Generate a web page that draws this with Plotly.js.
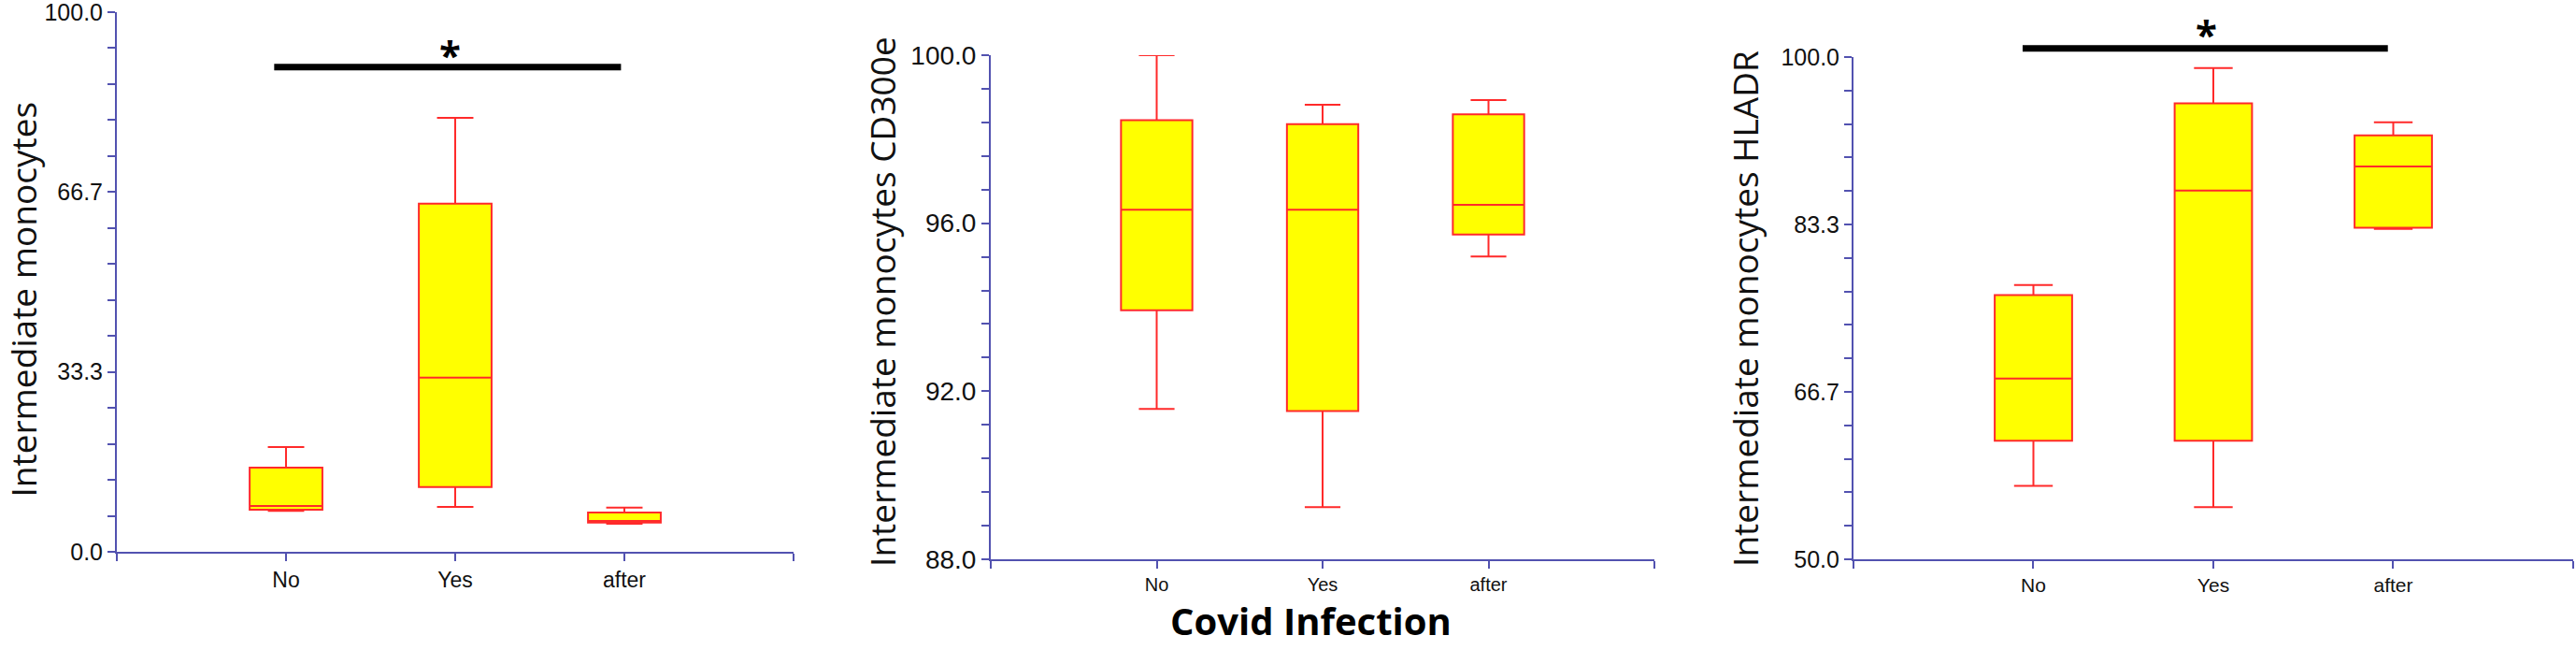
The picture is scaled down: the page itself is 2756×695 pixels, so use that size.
<!DOCTYPE html>
<html>
<head>
<meta charset="utf-8">
<script src="https://cdn.plot.ly/plotly-3.0.1.min.js"></script>
<style>
  html, body { margin: 0; padding: 0; background: #fff; }
  #chart { width: 2756px; height: 695px; }
</style>
</head>
<body>
<div id="chart"></div>
<script>
// groups on every x axis
const groups = ['No', 'Yes', 'after'];

// panel 1: Intermediate monocytes
const p1Lower = [7.6, 8.3, 5.2];
const p1Q1 = [7.8, 12.0, 5.4];
const p1Median = [8.5, 32.3, 5.7];
const p1Q3 = [15.6, 64.5, 7.3];
const p1Upper = [19.4, 80.4, 8.2];
const p1TickText = ['0.0', '33.3', '66.7', '100.0'];

// panel 2: Intermediate monocytes CD300e
const p2Lower = [91.58, 89.24, 95.21];
const p2Q1 = [93.93, 91.53, 95.73];
const p2Median = [96.32, 96.32, 96.44];
const p2Q3 = [98.45, 98.36, 98.59];
const p2Upper = [100.0, 98.82, 98.93];
const p2TickText = ['88.0', '92.0', '96.0', '100.0'];

// panel 3: Intermediate monocytes HLADR
const p3Lower = [57.3, 55.2, 82.9];
const p3Q1 = [61.8, 61.8, 83.0];
const p3Median = [68.0, 86.7, 89.1];
const p3Q3 = [76.3, 95.4, 92.2];
const p3Upper = [77.3, 98.9, 93.5];
const p3TickText = ['50.0', '66.7', '83.3', '100.0'];

// significance bars: [from group, to group, level], star: [group, level]
const sig1 = [-0.07, 1.98, 89.8];
const star1 = [0.97, 93.2];
const sig3 = [-0.06, 1.97, 100.85];
const star3 = [0.96, 102.8];

const axisColor = '#5252b0';
const regular = '"Liberation Sans", Arial, sans-serif';
const narrow = '"Liberation Sans Narrow", "Arial Narrow", "Liberation Sans", sans-serif';
const titleFont = { family: '"Open Sans", sans-serif', size: 37, color: '#111' };
const starFont = { family: '"Open Sans", sans-serif', size: 42, color: '#000', weight: 700 };

function boxTrace(lower, q1, med, q3, upper, xa, ya) {
  return {
    type: 'box',
    x: groups,
    lowerfence: lower,
    q1: q1,
    median: med,
    q3: q3,
    upperfence: upper,
    boxpoints: false,
    width: 0.43,
    whiskerwidth: 0.5,
    fillcolor: '#ffff00',
    line: { color: '#ff2a2a', width: 2 },
    xaxis: xa,
    yaxis: ya,
    hoverinfo: 'skip',
    showlegend: false
  };
}

// 15 tick steps on every y axis, label on each 5th
function yTicks(lo, hi, labels) {
  const vals = [], text = [];
  for (let i = 0; i <= 15; i++) {
    vals.push(lo + (hi - lo) * i / 15);
    text.push(i % 5 === 0 ? labels[i / 5] : '');
  }
  return { tickvals: vals, ticktext: text };
}

function xAxis(domain, anchor, font, size) {
  return {
    domain: domain,
    anchor: anchor,
    type: 'category',
    range: [-1, 3],
    showline: true, linecolor: axisColor, linewidth: 2,
    ticks: 'outside', ticklen: 8, tickwidth: 2, tickcolor: axisColor,
    tickmode: 'array',
    tickvals: [-1, 0, 1, 2, 3],
    ticktext: ['', groups[0], groups[1], groups[2], ''],
    tickfont: { family: font, size: size, color: '#111' },
    ticklabeloverflow: 'allow',
    showgrid: false, zeroline: false, fixedrange: true
  };
}

function yAxis(domain, anchor, lo, hi, labels, font, size) {
  const t = yTicks(lo, hi, labels);
  return {
    domain: domain,
    anchor: anchor,
    range: [lo, hi],
    showline: true, linecolor: axisColor, linewidth: 2,
    ticks: 'outside', ticklen: 8, tickwidth: 2, tickcolor: axisColor,
    tickmode: 'array', tickvals: t.tickvals, ticktext: t.ticktext,
    tickfont: { family: font, size: size, color: '#111' },
    ticklabeloverflow: 'allow',
    showgrid: false, zeroline: false, fixedrange: true
  };
}

const data = [
  boxTrace(p1Lower, p1Q1, p1Median, p1Q3, p1Upper, 'x', 'y'),
  boxTrace(p2Lower, p2Q1, p2Median, p2Q3, p2Upper, 'x2', 'y2'),
  boxTrace(p3Lower, p3Q1, p3Median, p3Q3, p3Upper, 'x3', 'y3')
];

// panel 3 marks sit above the axis top, so place them in domain units (no clipping)
const dx = v => (v + 1) / 4;
const dy3 = v => (v - 50) / 50;

const layout = {
  width: 2756,
  height: 695,
  margin: { l: 0, r: 0, t: 0, b: 0 },
  paper_bgcolor: '#fff',
  plot_bgcolor: '#fff',
  xaxis: xAxis([0.04536, 0.30806], 'y', regular, 23),
  yaxis: yAxis([0.15108, 0.98129], 'x', 0, 100, p1TickText, regular, 25),
  xaxis2: xAxis([0.38462, 0.64224], 'y2', regular, 20),
  yaxis2: yAxis([0.13957, 0.91511], 'x2', 88, 100, p2TickText, narrow, 28),
  xaxis3: xAxis([0.71952, 0.99891], 'y3', regular, 21),
  yaxis3: yAxis([0.13957, 0.91223], 'x3', 50, 100, p3TickText, regular, 25),
  shapes: [
    { type: 'line', xref: 'x', yref: 'y', x0: sig1[0], x1: sig1[1], y0: sig1[2], y1: sig1[2],
      line: { color: '#000', width: 7 } },
    { type: 'line', xref: 'x3 domain', yref: 'y3 domain', x0: dx(sig3[0]), x1: dx(sig3[1]),
      y0: dy3(sig3[2]), y1: dy3(sig3[2]), line: { color: '#000', width: 7 } }
  ],
  annotations: [
    { text: '*', xref: 'x', yref: 'y', x: star1[0], y: star1[1], showarrow: false,
      yanchor: 'middle', yshift: -5, font: starFont },
    { text: '*', xref: 'x3 domain', yref: 'y3 domain', x: dx(star3[0]), y: dy3(star3[1]), showarrow: false,
      yanchor: 'middle', yshift: -5, font: starFont },
    { text: 'Intermediate monocytes', xref: 'paper', yref: 'paper', x: 0.0089, y: 0.5396,
      textangle: -90, showarrow: false, xanchor: 'center', yanchor: 'middle', font: titleFont },
    { text: 'Intermediate monocytes CD300e', xref: 'paper', yref: 'paper', x: 0.3425, y: 0.5367,
      textangle: -90, showarrow: false, xanchor: 'center', yanchor: 'middle', font: titleFont },
    { text: 'Intermediate monocytes HLADR', xref: 'paper', yref: 'paper', x: 0.677, y: 0.525,
      textangle: -90, showarrow: false, xanchor: 'center', yanchor: 'middle', font: titleFont },
    { text: 'Covid Infection', xref: 'paper', yref: 'paper', x: 0.509, y: 0.045,
      showarrow: false, xanchor: 'center', yanchor: 'middle',
      font: { family: '"Open Sans", sans-serif', size: 40, color: '#000', weight: 700 } }
  ]
};

Plotly.newPlot('chart', data, layout, { staticPlot: true, displayModeBar: false });
</script>
</body>
</html>
